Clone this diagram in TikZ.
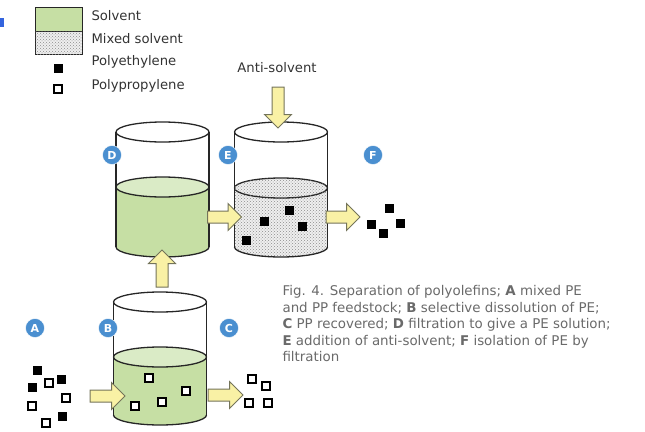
\documentclass[tikz,border=0pt]{standalone}
\usepackage{fontspec}
\setmainfont{DejaVu Sans}
\usetikzlibrary{shapes.arrows,patterns,positioning}
\definecolor{solvent}{HTML}{C6DFA4}
\definecolor{solventtop}{HTML}{DAEBC6}
\definecolor{mixed}{HTML}{EFEFEF}
\definecolor{arrowfill}{HTML}{F9F1A5}
\definecolor{arrowline}{HTML}{74745A}
\definecolor{stepblue}{HTML}{4A8FD0}
\definecolor{capgray}{HTML}{6A6A6A}
\tikzset{
  tank/.style={draw=black!85, line width=1.3pt},
  solventfill/.style={fill=solvent},
  solventtopfill/.style={fill=solventtop},
  mixedfill/.style={fill=mixed, postaction={pattern=crosshatch dots, pattern color=black!45}},
  pe/.style={rectangle, fill=black, minimum size=9pt, inner sep=0pt},
  pp/.style={rectangle, draw=black, fill=white, line width=1.6pt, minimum size=8.4pt, inner sep=0pt},
  stage/.style={circle, fill=stepblue, draw=white, thin, text=white, font=\bfseries\fontsize{11}{11}\selectfont, minimum size=19pt, inner sep=0pt},
  feed/.style={single arrow, draw=arrowline, fill=arrowfill, line width=1pt, single arrow head extend=7.5pt, inner xsep=0pt, inner ysep=5.5pt},
  legtext/.style={anchor=west, text=black!80, font=\fontsize{13.2}{15}\selectfont},
}
% #1 centre x, #2 top rim, #3 liquid level, #4 bottom, #5 body, #6 surface
\newcommand{\tank}[6]{
  \fill[#5] (#1-46.5,#3) rectangle (#1+46.5,#4);
  \fill[#5] (#1,#4) ellipse [x radius=46.5, y radius=10];
  \filldraw[tank,#6] (#1,#3) ellipse [x radius=46.5, y radius=10];
  \draw[tank] (#1,#2) ellipse [x radius=46.5, y radius=10];
  \draw[tank] (#1-46.5,#2) -- (#1-46.5,#4);
  \draw[tank] (#1+46.5,#2) -- (#1+46.5,#4);
  \draw[tank] (#1+46.5,#4) arc [start angle=0, end angle=180, x radius=46.5, y radius=10];
}

\begin{document}
\begin{tikzpicture}[x=1pt,y=-1pt]
    \useasboundingbox (0,0) rectangle (645,431);
    \fill[stepblue!70!blue] (0,18) rectangle (4,27);

    % legend
    \filldraw[solventfill, draw=black!85, line width=1pt] (35,7) rectangle (82,31);
    \filldraw[mixedfill, draw=black!85, line width=1pt] (35,31) rectangle (82,54);
    \node[pe] (lpe) at (58,68) {};
    \node[pp] (lpp) at (58,89) {};
    \node[legtext] (lsolv) at (88,16) {Solvent};
    \node[legtext] (lmix) at (88,39) {Mixed solvent};
    \node[legtext] (lpetxt) at (88,62) {Polyethylene};
    \node[legtext] (lpptxt) at (88,86) {Polypropylene};

    % tanks
    \tank{162.5}{132}{187}{247}{solventfill}{solventtopfill}
    \tank{281}{132}{188}{247}{mixedfill}{mixedfill}
    \tank{160}{302}{357}{415}{solventfill}{solventtopfill}

    \node[stage] (A) at (35,328) {A};
    \node[stage] (B) at (108,328) {B};
    \node[stage] (C) at (229,328) {C};
    \node[stage] (D) at (112,155) {D};
    \node[stage] (E) at (228,155) {E};
    \node[stage] (F) at (373,155) {F};

    % feedstock and products
    \foreach \x/\y [count=\i] in {37/370,32/387,61/379,62/416}
      \node[pe] (feedpe\i) at (\x,\y) {};
    \foreach \x/\y [count=\i] in {49/383,66/398,32/406,46/423}
      \node[pp] (feedpp\i) at (\x,\y) {};
    \foreach \x/\y [count=\i] in {149/378,186/391,162/402,135/406}
      \node[pp] (solpp\i) at (\x,\y) {};
    \foreach \x/\y [count=\i] in {252/379,266/386,249/403,268/403}
      \node[pp] (recpp\i) at (\x,\y) {};
    \foreach \x/\y [count=\i] in {289/210,264/221,302/226,246/240}
      \node[pe] (precpe\i) at (\x,\y) {};
    \foreach \x/\y [count=\i] in {389/208,371/224,400/223,383/233}
      \node[pe] (isope\i) at (\x,\y) {};

    % transfers
    \node[feed, minimum height=35pt] (ab) at (104.5,396) {};
    \node[feed, minimum height=35pt] (bc) at (222.5,395) {};
    \node[feed, minimum height=37pt, rotate=90] (bd) at (162,271.5) {};
    \node[feed, minimum height=34pt] (de) at (221.5,217) {};
    \node[feed, minimum height=34pt] (ef) at (340,217) {};
    \node[feed, minimum height=41pt, rotate=-90] (anti) at (278,104.5) {};
    \node[font=\fontsize{13.2}{15}\selectfont, text=black!80] (antitxt) at (277,68) {Anti-solvent};

    \node[anchor=north west, align=left, text=capgray, font=\fontsize{13.4}{16.5}\selectfont] (caption) at (279,282)
      {Fig. 4. Separation of polyolefins; \textbf{A} mixed PE\\
       and PP feedstock; \textbf{B} selective dissolution of PE;\\
       \textbf{C} PP recovered; \textbf{D} filtration to give a PE solution;\\
       \textbf{E} addition of anti-solvent; \textbf{F} isolation of PE by\\
       filtration};
\end{tikzpicture}
\end{document}
